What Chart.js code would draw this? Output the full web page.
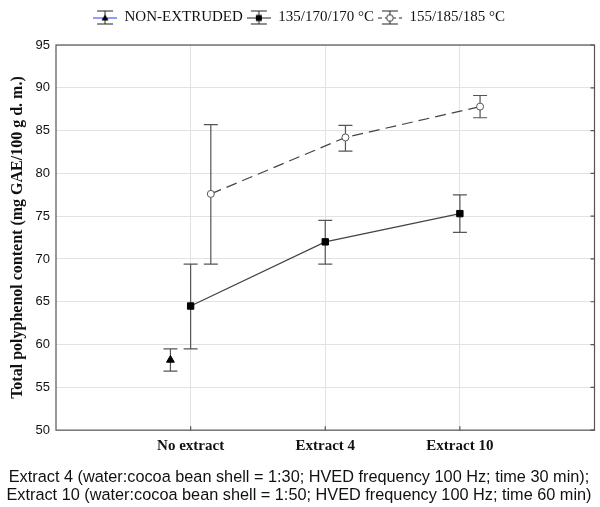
<!DOCTYPE html>
<html>
<head>
<meta charset="utf-8">
<script src="https://cdn.jsdelivr.net/npm/chart.js@4/dist/chart.umd.min.js"></script>
<style>
  html, body { margin: 0; padding: 0; background: #fff; }
  #wrap { width: 600px; height: 507px; }
</style>
</head>
<body>
<div id="wrap"><canvas id="chart"></canvas></div>
<script>
// categories on the x axis
const categories = ['No extract', 'Extract 4', 'Extract 10'];
const seriesNames = ['NON-EXTRUDED', '135/170/170 °C', '155/185/185 °C'];

// mean values and error bar ends (mg GAE/100 g d. m.)
const nonExtruded = [58.2];
const nonExtrudedLow = [56.9];
const nonExtrudedHigh = [59.5];

const t135 = [64.5, 72.0, 75.3];
const t135Low = [59.5, 69.4, 73.1];
const t135High = [69.4, 74.5, 77.5];

const t155 = [77.6, 84.2, 87.8];
const t155Low = [69.4, 82.6, 86.5];
const t155High = [85.7, 85.6, 89.1];

const footnote = [
  'Extract 4 (water:cocoa bean shell = 1:30; HVED frequency 100 Hz; time 30 min);',
  'Extract 10 (water:cocoa bean shell = 1:50; HVED frequency 100 Hz; time 60 min)'
];

// side-by-side shift of the series around each category
const shift = [-0.15, 0, 0.15];

function points(values, s) {
  return values.map((v, i) => ({ x: i + 1 + s, y: v }));
}

function legendIcon(kind) {
  const c = document.createElement('canvas');
  c.width = 24; c.height = 16;
  const g = c.getContext('2d');
  g.strokeStyle = '#222';
  g.lineWidth = 1;
  // error bar caps and stem
  g.beginPath();
  g.moveTo(4, 1.5); g.lineTo(20, 1.5);
  g.moveTo(4, 14.5); g.lineTo(20, 14.5);
  g.moveTo(12, 1.5); g.lineTo(12, 14.5);
  g.stroke();
  // series line
  g.beginPath();
  if (kind === 0) g.strokeStyle = '#2b3bf0';
  if (kind === 2) g.setLineDash([4, 3]);
  g.moveTo(0, 8.5); g.lineTo(24, 8.5);
  g.stroke();
  g.setLineDash([]);
  g.fillStyle = '#000';
  g.strokeStyle = '#333';
  if (kind === 0) {
    g.beginPath(); g.moveTo(12, 5); g.lineTo(15.5, 11); g.lineTo(8.5, 11); g.closePath(); g.fill();
  } else if (kind === 1) {
    g.fillRect(9, 5.5, 6, 6);
  } else {
    g.fillStyle = '#fff';
    g.beginPath(); g.arc(12, 8.5, 3.3, 0, Math.PI * 2); g.fill(); g.stroke();
  }
  return c;
}

const errorBars = {
  id: 'errorBars',
  afterLayout(chart) {
    // lift the legend into the top margin
    chart.legend.top -= 10;
    chart.legend.bottom -= 10;
  },
  beforeDatasetsDraw(chart) {
    const { ctx, chartArea, scales: { x, y } } = chart;
    ctx.save();
    // plot frame with small inward ticks
    ctx.strokeStyle = '#555';
    ctx.lineWidth = 1.2;
    ctx.strokeRect(chartArea.left, chartArea.top, chartArea.right - chartArea.left, chartArea.bottom - chartArea.top);
    ctx.beginPath();
    y.ticks.forEach(t => {
      const py = y.getPixelForValue(t.value);
      ctx.moveTo(chartArea.right, py); ctx.lineTo(chartArea.right - 4, py);
    });
    x.ticks.forEach(t => {
      const px = x.getPixelForValue(t.value);
      ctx.moveTo(px, chartArea.bottom); ctx.lineTo(px, chartArea.bottom - 4);
    });
    ctx.stroke();
    // error bars
    ctx.strokeStyle = '#555';
    ctx.lineWidth = 1.2;
    chart.data.datasets.forEach(ds => {
      ds.data.forEach((p, i) => {
        const px = x.getPixelForValue(p.x);
        const lo = y.getPixelForValue(ds.errLow[i]);
        const hi = y.getPixelForValue(ds.errHigh[i]);
        ctx.beginPath();
        ctx.moveTo(px, lo); ctx.lineTo(px, hi);
        ctx.moveTo(px - 7, lo); ctx.lineTo(px + 7, lo);
        ctx.moveTo(px - 7, hi); ctx.lineTo(px + 7, hi);
        ctx.stroke();
      });
    });
    ctx.restore();
  }
};

new Chart(document.getElementById('chart'), {
  type: 'line',
  data: {
    datasets: [
      {
        label: seriesNames[0],
        data: points(nonExtruded, shift[0]),
        errLow: nonExtrudedLow, errHigh: nonExtrudedHigh,
        borderColor: '#2b3bf0', borderWidth: 1,
        pointStyle: 'triangle', pointRadius: 4.5,
        pointBackgroundColor: '#000', pointBorderColor: '#000', pointBorderWidth: 1
      },
      {
        label: seriesNames[1],
        data: points(t135, shift[1]),
        errLow: t135Low, errHigh: t135High,
        borderColor: '#444', borderWidth: 1.2,
        pointStyle: 'rect', pointRadius: 4.5,
        pointBackgroundColor: '#000', pointBorderColor: '#000', pointBorderWidth: 1
      },
      {
        label: seriesNames[2],
        data: points(t155, shift[2]),
        errLow: t155Low, errHigh: t155High,
        borderColor: '#444', borderWidth: 1.2, borderDash: [11, 6],
        pointStyle: 'circle', pointRadius: 3.5,
        pointBackgroundColor: '#fff', pointBorderColor: '#555', pointBorderWidth: 1
      }
    ]
  },
  options: {
    responsive: true,
    maintainAspectRatio: false,
    animation: false,
    layout: { padding: { top: 2, left: 0, right: 2, bottom: 3 } },
    plugins: {
      tooltip: { enabled: false },
      legend: {
        position: 'top',
        labels: {
          usePointStyle: true,
          pointStyleWidth: 24,
          padding: 4,
          color: '#111',
          font: { family: '"Liberation Serif", serif', size: 15 },
          generateLabels(chart) {
            return chart.data.datasets.map((ds, i) => ({
              text: ds.label,
              pointStyle: legendIcon(i),
              fontColor: '#111',
              lineWidth: 0,
              strokeStyle: 'transparent',
              fillStyle: 'transparent',
              datasetIndex: i
            }));
          }
        }
      },
      title: {
        display: true,
        position: 'bottom',
        text: footnote,
        color: '#111',
        font: { family: '"Liberation Sans", Arial, sans-serif', size: 16.3, weight: 'normal', lineHeight: 1.1 },
        padding: { top: 8, bottom: 0 }
      }
    },
    scales: {
      x: {
        type: 'linear',
        min: 0,
        max: 4,
        afterBuildTicks(scale) {
          scale.ticks = categories.map((c, i) => ({ value: i + 1 }));
        },
        afterFit(scale) { scale.height = 30; },
        ticks: {
          callback: v => categories[v - 1] || '',
          color: '#111',
          padding: 7,
          maxRotation: 0,
          font: { family: '"Liberation Serif", serif', size: 15, weight: 'bold' }
        },
        grid: { color: '#e2e2e2', drawTicks: false },
        border: { display: false }
      },
      y: {
        min: 50,
        max: 95,
        afterFit(scale) { scale.width = 56; scale.paddingTop = 45; },
        ticks: {
          stepSize: 5,
          color: '#111',
          padding: 6,
          font: { family: '"Liberation Sans", Arial, sans-serif', size: 13 }
        },
        grid: { color: '#e2e2e2', drawTicks: false },
        border: { display: false },
        title: {
          display: true,
          text: 'Total polyphenol content (mg GAE/100 g d. m.)',
          color: '#111',
          padding: { top: 8, bottom: 0 },
          font: { family: '"Liberation Serif", serif', size: 16, weight: 'bold' }
        }
      }
    }
  },
  plugins: [errorBars]
});
</script>
</body>
</html>
